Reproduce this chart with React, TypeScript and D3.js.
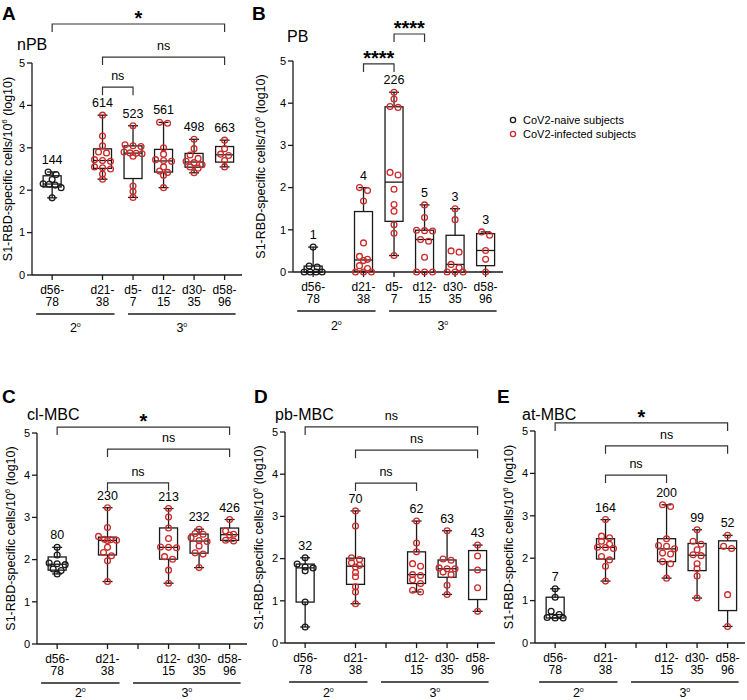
import React from 'react';
import * as d3 from 'd3';

// time points (d5-7 is empty in the memory B cell panels)
const categories = ['d56-78', 'd21-38', 'd5-7', 'd12-15', 'd30-35', 'd58-96'];
const naiveSlots = [0]; // CoV2-naive subjects, rest are CoV2-infected

// log10 S1-RBD-specific cells per 10^6, one array per time point
const nPBValues = [
  [2.43, 2.37, 2.25, 2.15, 2.14, 2.12, 2.06, 1.82],
  [3.77, 3.28, 3.05, 2.9, 2.88, 2.72, 2.7, 2.68, 2.55, 2.53, 2.5, 2.38, 2.26],
  [3.52, 3.07, 3.05, 3.03, 2.9, 2.88, 2.87, 2.86, 2.8, 2.1, 1.97, 1.83],
  [3.6, 3.58, 3.0, 2.85, 2.72, 2.7, 2.68, 2.55, 2.45, 2.42, 2.35, 2.06],
  [3.2, 2.98, 2.83, 2.75, 2.68, 2.65, 2.6, 2.55, 2.52, 2.41],
  [3.18, 2.98, 2.85, 2.82, 2.7, 2.55],
];
const pbValues = [
  [0.59, 0.14, 0.12, 0, 0, 0, 0],
  [2.0, 1.93, 1.68, 0.69, 0.37, 0.3, 0.27, 0.15, 0.08, 0, 0, 0],
  [4.26, 4.1, 3.92, 3.9, 2.36, 2.3, 1.96, 1.6, 1.44, 1.12, 0.92, 0.39],
  [1.59, 1.29, 0.99, 0.98, 0.97, 0.77, 0.73, 0.35, 0, 0, 0],
  [1.5, 1.24, 0.5, 0.47, 0.18, 0.1, 0, 0, 0],
  [0.95, 0.87, 0.51, 0.3, 0],
];
const clMbcValues = [
  [2.29, 2.11, 1.92, 1.9, 1.88, 1.78, 1.74, 1.66],
  [3.23, 2.76, 2.55, 2.48, 2.47, 2.46, 2.45, 2.29, 2.17, 2.09, 1.97, 1.48],
  null,
  [3.21, 3.01, 2.75, 2.5, 2.3, 2.29, 2.28, 2.07, 2.01, 1.75, 1.44],
  [2.72, 2.62, 2.6, 2.52, 2.45, 2.43, 2.32, 2.16, 2.13, 1.81],
  [2.95, 2.68, 2.6, 2.58, 2.46, 2.44],
];
const pbMbcValues = [
  [2.02, 1.87, 1.8, 1.78, 1.71, 0.97, 0.38],
  [3.13, 2.77, 2.02, 1.98, 1.9, 1.84, 1.8, 1.67, 1.57, 1.33, 1.21, 0.93],
  null,
  [2.89, 2.37, 2.16, 1.88, 1.82, 1.62, 1.6, 1.5, 1.41, 1.25, 1.21],
  [2.66, 1.99, 1.96, 1.78, 1.76, 1.76, 1.68, 1.62, 1.37, 1.15],
  [2.32, 2.06, 1.73, 1.31, 0.75],
];
const atMbcValues = [
  [1.28, 1.08, 0.75, 0.67, 0.6, 0.59, 0.59],
  [2.91, 2.52, 2.48, 2.4, 2.33, 2.26, 2.25, 2.23, 2.04, 1.96, 1.81, 1.46],
  null,
  [3.26, 3.22, 2.46, 2.3, 2.28, 2.22, 2.12, 2.1, 1.92, 1.87, 1.53],
  [2.67, 2.4, 2.33, 2.2, 2.08, 2.06, 1.87, 1.75, 1.58, 1.06],
  [2.54, 2.28, 2.23, 1.14, 0.39],
];

// numbers printed above each box
const nPBCounts = [144, 614, 523, 561, 498, 663];
const pbCounts = [1, 4, 226, 5, 3, 3];
const clMbcCounts = [80, 230, null, 213, 232, 426];
const pbMbcCounts = [32, 70, null, 62, 63, 43];
const atMbcCounts = [7, 164, null, 200, 99, 52];

// significance brackets: from/to category index, label, height (log10 units)
const nPBBrackets = [
  { from: 0, to: 5, label: '*', at: 5.92 },
  { from: 1, to: 5, label: 'ns', at: 5.14 },
  { from: 1, to: 2, label: 'ns', at: 4.43 },
];
const pbBrackets = [
  { from: 1, to: 2, label: '****', at: 4.93 },
  { from: 2, to: 3, label: '****', at: 5.64 },
];
const clMbcBrackets = [
  { from: 0, to: 5, label: '*', at: 5.14 },
  { from: 1, to: 5, label: 'ns', at: 4.62 },
  { from: 1, to: 3, label: 'ns', at: 3.82 },
];
const pbMbcBrackets = [
  { from: 0, to: 5, label: 'ns', at: 5.12 },
  { from: 1, to: 5, label: 'ns', at: 4.57 },
  { from: 1, to: 3, label: 'ns', at: 3.79 },
];
const atMbcBrackets = [
  { from: 0, to: 5, label: '*', at: 5.19 },
  { from: 1, to: 5, label: 'ns', at: 4.65 },
  { from: 1, to: 3, label: 'ns', at: 3.96 },
];

const yTicks = [0, 1, 2, 3, 4, 5];

const FONT = "'Liberation Sans', Arial, Helvetica, sans-serif";
const RED = '#cc2a2a';
const BLACK = '#1a1a1a';

// prism-like quartiles
function quantile(sorted, p) {
  const n = sorted.length;
  const pos = (n + 1) * p;
  if (pos <= 1) return sorted[0];
  if (pos >= n) return sorted[n - 1];
  const lo = Math.floor(pos);
  return sorted[lo - 1] + (pos - lo) * (sorted[lo] - sorted[lo - 1]);
}

// put close values side by side in rows
function swarm(vals, y) {
  const desc = [...vals].sort((a, b) => b - a);
  const rows = [];
  desc.forEach(v => {
    const row = rows[rows.length - 1];
    if (row && Math.abs(y(row[0]) - y(v)) < 4 && row.length < 4) row.push(v);
    else rows.push([v]);
  });
  const out = [];
  rows.forEach(row => {
    const step = row.length >= 4 ? 6 : 8;
    row.forEach((v, i) => out.push({ v, dx: (i - (row.length - 1) / 2) * step }));
  });
  return out;
}

function Sup({ base, sup }) {
  return (
    <>
      {base}
      <tspan fontSize="7" dy="-5">{sup}</tspan>
    </>
  );
}

function Panel({ letter, title, left, y0, y5, values, counts, brackets, letterX, letterY, titleX, titleY, labelOff, groupOff }) {
  const y = d3.scaleLinear().domain([0, 5]).range([y0, y5]);
  const x = d3.scaleLinear().domain([-0.66, 6.22]).range([left, left + 210]);
  const slotX = i => x(i === 0 ? 0 : i + 0.65);
  const axisEnd = x(6.22);

  return (
    <g fontFamily={FONT}>
      <text x={letterX} y={letterY} fontSize="19" fontWeight="bold">{letter}</text>
      <text x={titleX} y={titleY} fontSize="16">{title}</text>

      {/* y axis */}
      <line x1={left} x2={left} y1={y(0)} y2={y(5)} stroke={BLACK} strokeWidth={1.3} />
      {yTicks.map(t => (
        <g key={t}>
          <line x1={left - 5} x2={left} y1={y(t)} y2={y(t)} stroke={BLACK} strokeWidth={1.3} />
          <text x={left - 7} y={y(t)} dy="0.35em" textAnchor="end" fontSize="11">{t}</text>
        </g>
      ))}
      <text
        transform={`translate(${left - labelOff},${(y(0) + y(5)) / 2}) rotate(-90)`}
        textAnchor="middle"
        fontSize="12.5"
      >
        S1-RBD-specific cells/10<tspan fontSize="8" dy="-5">6</tspan>
        <tspan dy="5"> (log10)</tspan>
      </text>

      {/* x axis */}
      <line x1={left} x2={axisEnd} y1={y(0)} y2={y(0)} stroke={BLACK} strokeWidth={1.3} />
      {categories.map((c, i) => {
        const parts = c.split('-');
        return (
          <g key={c}>
            <line x1={slotX(i)} x2={slotX(i)} y1={y(0)} y2={y(0) + 5} stroke={BLACK} strokeWidth={1.3} />
            {values[i] && (
              <text textAnchor="middle" fontSize="12">
                <tspan x={slotX(i)} y={y(0) + 19}>{parts[0] + '-'}</tspan>
                <tspan x={slotX(i)} y={y(0) + 30.5}>{parts[1]}</tspan>
              </text>
            )}
          </g>
        );
      })}
      {/* 2° / 3° groups */}
      <line x1={slotX(0) - 16} x2={slotX(1) + 12} y1={y(0) + 39} y2={y(0) + 39} stroke="#555" strokeWidth={1.8} />
      <line x1={slotX(2) - 5} x2={slotX(5) + 11} y1={y(0) + 39} y2={y(0) + 39} stroke="#555" strokeWidth={1.8} />
      <text x={(slotX(0) + slotX(1)) / 2 - 2} y={y(0) + groupOff} textAnchor="middle" fontSize="12.5">
        <Sup base="2" sup="o" />
      </text>
      <text x={(slotX(2) + slotX(5)) / 2 + 3} y={y(0) + groupOff} textAnchor="middle" fontSize="12.5">
        <Sup base="3" sup="o" />
      </text>

      {/* boxes */}
      {values.map((vals, i) => {
        if (!vals) return null;
        const s = [...vals].sort((a, b) => a - b);
        const q1 = quantile(s, 0.25);
        const med = quantile(s, 0.5);
        const q3 = quantile(s, 0.75);
        const mn = s[0];
        const mx = s[s.length - 1];
        const cx = slotX(i);
        const color = naiveSlots.includes(i) ? BLACK : RED;
        return (
          <g key={i}>
            <line x1={cx} x2={cx} y1={y(mn)} y2={y(mx)} stroke={BLACK} strokeWidth={1.3} />
            <rect x={cx - 9} width={18} y={y(q3)} height={Math.max(0.5, y(q1) - y(q3))} fill="white" stroke={BLACK} strokeWidth={1.3} />
            <line x1={cx - 9} x2={cx + 9} y1={y(med)} y2={y(med)} stroke={BLACK} strokeWidth={1.3} />
            <line x1={cx - 5} x2={cx + 5} y1={y(mn)} y2={y(mn)} stroke={BLACK} strokeWidth={1.3} />
            <line x1={cx - 5} x2={cx + 5} y1={y(mx)} y2={y(mx)} stroke={BLACK} strokeWidth={1.3} />
            {swarm(vals, y).map((p, k) => (
              <circle key={k} cx={cx + p.dx} cy={y(p.v)} r={2.9} fill="none" stroke={color} strokeWidth={1.3} />
            ))}
            {counts[i] != null && (
              <text x={cx} y={y(mx) - 8} textAnchor="middle" fontSize="12.5">{counts[i]}</text>
            )}
          </g>
        );
      })}

      {/* brackets */}
      {brackets.map((b, i) => {
        const by = y(b.at);
        const x1 = slotX(b.from);
        const x2 = slotX(b.to);
        const star = b.label !== 'ns';
        return (
          <g key={i}>
            <path d={`M${x1},${by + 8}V${by}H${x2}V${by + 8}`} fill="none" stroke="#333" strokeWidth={1.2} />
            <text
              x={(x1 + x2) / 2}
              y={star ? by + 1 : by - 7}
              textAnchor="middle"
              fontSize={star ? 20 : 12.5}
              fontWeight={star ? 'bold' : 'normal'}
            >
              {b.label}
            </text>
          </g>
        );
      })}
    </g>
  );
}

export default function App() {
  return (
    <svg width={747} height={700} style={{ position: 'absolute', left: 0, top: 0, background: 'white' }}>
      <Panel letter="A" title="nPB" left={32} y0={275} y5={63} values={nPBValues} counts={nPBCounts}
        brackets={nPBBrackets} letterX={2} letterY={20} titleX={17} titleY={50} labelOff={20} groupOff={57} />
      <Panel letter="B" title="PB" left={293} y0={272} y5={61} values={pbValues} counts={pbCounts}
        brackets={pbBrackets} letterX={252} letterY={20} titleX={287} titleY={42} labelOff={28} groupOff={58} />
      <Panel letter="C" title="cl-MBC" left={37} y0={644} y5={433} values={clMbcValues} counts={clMbcCounts}
        brackets={clMbcBrackets} letterX={2} letterY={403} titleX={27} titleY={420} labelOff={22} groupOff={53} />
      <Panel letter="D" title="pb-MBC" left={285} y0={643} y5={432} values={pbMbcValues} counts={pbMbcCounts}
        brackets={pbMbcBrackets} letterX={254} letterY={403} titleX={275} titleY={420} labelOff={22} groupOff={54} />
      <Panel letter="E" title="at-MBC" left={535} y0={643} y5={431} values={atMbcValues} counts={atMbcCounts}
        brackets={atMbcBrackets} letterX={497} letterY={403} titleX={522} titleY={420} labelOff={22} groupOff={54} />

      {/* legend */}
      <g fontFamily={FONT} fontSize="11">
        <circle cx={513} cy={120} r={2.6} fill="none" stroke={BLACK} strokeWidth={1.3} />
        <text x={523} y={124}>CoV2-naive subjects</text>
        <circle cx={513} cy={134} r={2.6} fill="none" stroke={RED} strokeWidth={1.3} />
        <text x={523} y={138}>CoV2-infected subjects</text>
      </g>
    </svg>
  );
}
